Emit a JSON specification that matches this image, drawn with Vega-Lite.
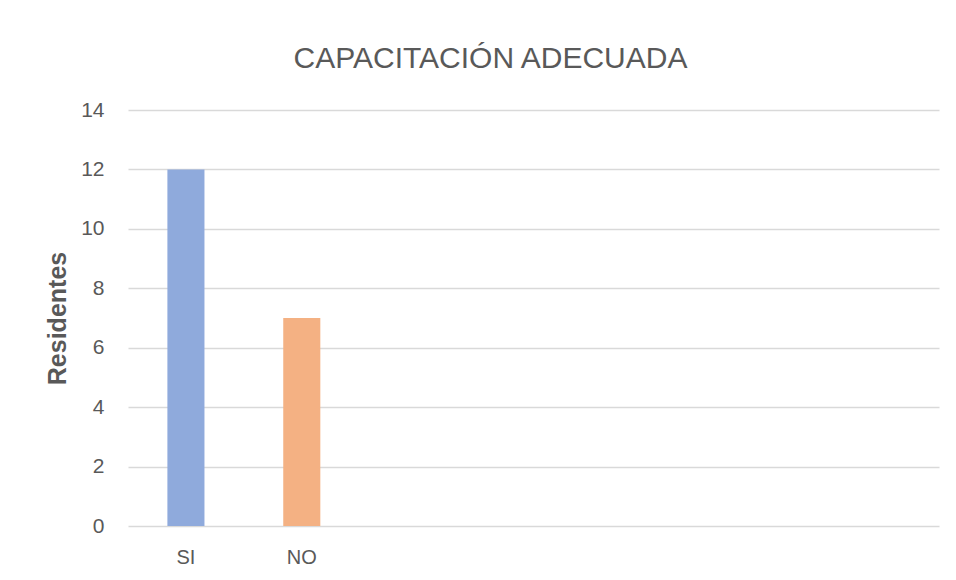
{
  "$schema": "https://vega.github.io/schema/vega-lite/v6.json",
  "width": 811,
  "height": 416,
  "autosize": "none",
  "padding": {"left": 128, "top": 110, "right": 17, "bottom": 54},
  "background": "white",
  "title": {
    "text": "CAPACITACIÓN ADECUADA",
    "font": "Liberation Sans",
    "fontSize": 30,
    "fontWeight": "normal",
    "color": "#595959",
    "anchor": "middle",
    "dx": -43,
    "offset": 25
  },
  "data": {
    "values": [
      {"respuesta": "SI", "residentes": 12},
      {"respuesta": "NO", "residentes": 7}
    ]
  },
  "mark": {"type": "bar"},
  "encoding": {
    "x": {
      "field": "respuesta",
      "type": "nominal",
      "sort": null,
      "scale": {
        "domain": ["SI", "NO", " ", "  ", "   ", "    ", "     "],
        "paddingInner": 0.68,
        "paddingOuter": 0.34
      },
      "axis": {
        "title": null,
        "labelAngle": 0,
        "labelFont": "Liberation Sans",
        "labelFontSize": 20,
        "labelColor": "#595959",
        "labelPadding": 21,
        "ticks": false,
        "domain": false,
        "grid": false
      }
    },
    "y": {
      "field": "residentes",
      "type": "quantitative",
      "scale": {"domain": [0, 14], "nice": false},
      "axis": {
        "title": "Residentes",
        "titleFont": "Liberation Sans",
        "titleFontSize": 25,
        "titleFontWeight": "bold",
        "titleColor": "#595959",
        "titlePadding": 10,
        "values": [0, 2, 4, 6, 8, 10, 12, 14],
        "labelFont": "Liberation Sans",
        "labelFontSize": 21,
        "labelColor": "#595959",
        "labelPadding": 24,
        "ticks": false,
        "domain": false,
        "grid": true,
        "gridColor": "#D9D9D9",
        "gridWidth": 1.5
      }
    },
    "color": {
      "field": "respuesta",
      "type": "nominal",
      "scale": {"domain": ["SI", "NO"], "range": ["#8FAADC", "#F4B183"]},
      "legend": null
    }
  },
  "config": {"view": {"stroke": null}}
}
